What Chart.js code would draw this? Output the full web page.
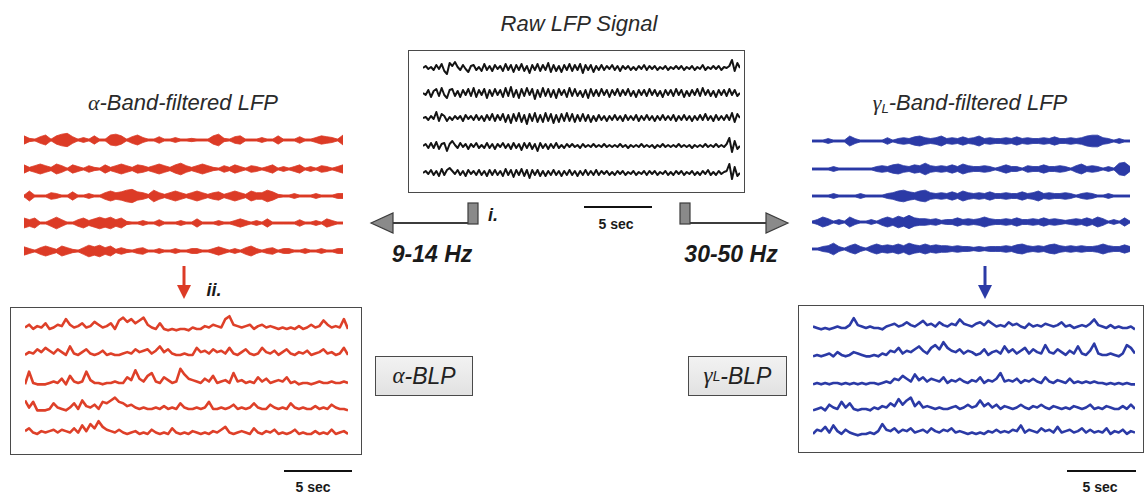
<!DOCTYPE html>
<html>
<head>
<meta charset="utf-8">
<script src="https://cdn.jsdelivr.net/npm/chart.js@4.4.1/dist/chart.umd.min.js"></script>
<style>
  html, body { margin: 0; padding: 0; background: #fff; }
  body { width: 1145px; height: 494px; position: relative; overflow: hidden; font-family: "Liberation Sans", Arial, sans-serif; }
  canvas { position: absolute; }
  .box { position: absolute; box-sizing: border-box; border: 1.5px solid #4a4a4a; }
  .label { position: absolute; box-sizing: border-box; border: 1.5px solid #4a4a4a; background: linear-gradient(#f2f2f2, #e2e2e2);
           display: flex; align-items: center; justify-content: center; font-style: italic; font-size: 23px; color: #222; }
  .txt { position: absolute; transform: translate(-50%, -50%); white-space: nowrap; color: #2a2a2a; }
  .title { font-style: italic; font-size: 22px; }
  .hz { font-style: italic; font-weight: bold; font-size: 23px; color: #1a1a1a; }
  .sec { font-weight: bold; font-size: 14px; color: #1a1a1a; }
  .bar { position: absolute; height: 2px; background: #111; }
  .greek { font-family: "Liberation Serif", "DejaVu Serif", serif; font-style: italic; }
  sub { font-size: 0.6em; vertical-align: -0.25em; }
  svg { position: absolute; left: 0; top: 0; }
</style>
</head>
<body>

<div class="txt title" style="left:579px; top:24px;">Raw LFP Signal</div>
<div class="txt title" style="left:183px; top:103px;"><span class="greek">α</span>-Band-filtered LFP</div>
<div class="txt title" style="left:970px; top:103px;"><span class="greek">γ</span><sub>L</sub>-Band-filtered LFP</div>

<div class="box" style="left:408px; top:50px; width:337px; height:143px;"></div>
<div class="box" style="left:10px; top:307px; width:352px; height:148px;"></div>
<div class="box" style="left:798px; top:305px; width:346px; height:148px;"></div>

<div class="label" style="left:375px; top:356px; width:98px; height:40px;"><span class="greek">α</span>-BLP</div>
<div class="label" style="left:688px; top:356px; width:99px; height:40px;"><span class="greek">γ</span><sub>L</sub>-BLP</div>

<div class="bar" style="left:584px; top:206px; width:68px;"></div>
<div class="txt sec" style="left:616px; top:224px;">5 sec</div>
<div class="bar" style="left:284px; top:470px; width:68px;"></div>
<div class="txt sec" style="left:313px; top:487px;">5 sec</div>
<div class="bar" style="left:1067px; top:470px; width:69px;"></div>
<div class="txt sec" style="left:1100px; top:487px;">5 sec</div>

<div class="txt hz" style="left:432px; top:254px;">9-14 Hz</div>
<div class="txt hz" style="left:731px; top:254px;">30-50 Hz</div>
<div class="txt hz" style="left:493px; top:215px; font-size:18px;">i.</div>
<div class="txt hz" style="left:214px; top:290px; font-size:18px;">ii.</div>

<svg width="1145" height="494">
  <!-- filter branch arrows -->
  <rect x="468" y="203" width="10" height="21" fill="#8a8a8a" stroke="#3c3c3c" stroke-width="1.2"/>
  <line x1="468" y1="223" x2="392" y2="223" stroke="#3c3c3c" stroke-width="2"/>
  <polygon points="371,223 393,213 393,233" fill="#8a8a8a" stroke="#3c3c3c" stroke-width="1.2"/>
  <rect x="680" y="203" width="10" height="21" fill="#8a8a8a" stroke="#3c3c3c" stroke-width="1.2"/>
  <line x1="690" y1="223" x2="767" y2="223" stroke="#3c3c3c" stroke-width="2"/>
  <polygon points="788,223 766,213 766,233" fill="#8a8a8a" stroke="#3c3c3c" stroke-width="1.2"/>
  <!-- envelope arrows -->
  <line x1="184" y1="266" x2="184" y2="287" stroke="#dc3b26" stroke-width="3"/>
  <polygon points="177,285 191,285 184,299" fill="#dc3b26"/>
  <line x1="985" y1="266" x2="985" y2="287" stroke="#2b3aa6" stroke-width="3"/>
  <polygon points="978,285 992,285 985,299" fill="#2b3aa6"/>
</svg>

<script>
// Raw LFP traces (pixel amplitude, up = positive)
const raw1 = [0,2,-1,1,-2,3,-1,4,-3,-6,5,2,6,1,-2,3,-1,-4,2,3,-2,1,-3,4,-2,2,-3,3,-1,2,
  -3,4,-2,3,-4,3,-2,4,-3,2,-5,3,-2,4,-3,3,-2,5,-4,3,-3,2,-4,3,-2,4,-3,3,-2,4,-5,3,-2,3,-4,2,
  -2,3,-2,2,-1,3,-2,2,-3,2,-1,2,-2,1,-2,2,-1,3,-2,2,-1,2,-2,1,-1,2,-2,1,-1,2,-1,2,-2,1,-1,2,-2,1,-1,3,-2,1,-1,2,-1,2,-2,1,
  0,2,8,-3,5,0];
const raw2 = [0,-2,3,-4,2,4,-3,5,-2,-5,3,4,-3,2,-4,3,-2,4,-3,5,-4,3,-2,4,-5,3,-3,4,-2,3,
  -4,5,-3,6,-4,3,-5,4,-3,5,-2,4,-6,3,-4,5,-3,4,-4,3,-5,4,-2,3,-4,5,-3,4,-3,2,-4,3,-5,4,-3,3,
  -3,4,-2,3,-4,3,-2,4,-3,3,-2,4,-3,2,-4,3,-2,3,-3,4,-2,3,-3,2,-4,3,-2,3,-3,4,-2,3,-4,2,-3,3,-2,4,-3,5,-2,3,-3,2,-4,3,-2,3,
  -3,4,-2,3,-3,0];
const raw3 = [0,1,-2,2,-1,6,-3,4,2,-3,1,-2,2,-1,2,-3,3,-1,2,-2,3,-2,2,-3,3,-2,4,-3,3,-2,
  4,-4,3,-5,4,-3,5,-4,3,-6,4,-3,5,-4,3,-4,5,-3,4,-5,3,-4,4,-3,5,-3,4,-4,3,-3,4,-3,3,-4,2,-3,
  3,-2,2,-3,2,-2,3,-2,2,-3,3,-2,2,-2,3,-3,2,-2,3,-2,2,-3,2,-2,3,-2,2,-2,3,-3,2,-2,3,-2,2,-3,2,-2,3,-2,4,-2,2,-3,3,-2,2,-2,
  3,-2,5,-4,4,0];
const raw4 = [0,2,-2,3,-2,4,-3,2,3,-5,2,5,1,-2,3,-1,2,-3,2,-1,3,-2,1,-2,3,-2,2,-3,2,-1,
  3,-2,2,-3,3,-2,2,-4,3,-2,3,-3,2,-5,3,-2,2,-3,2,-2,3,-2,1,-2,2,-1,2,-1,1,-2,2,-1,1,-1,2,-1,
  1,-1,2,-1,1,-1,1,-1,2,-1,1,-2,1,-1,1,-1,2,-1,1,-1,1,-2,1,-1,2,-1,1,-1,1,-1,2,-1,1,-1,1,-2,1,-1,1,-1,2,-1,1,-1,2,-1,1,-1,
  2,8,-6,5,-3,0];
const raw5 = [0,2,-1,3,-2,2,-3,4,-2,3,5,2,-1,3,-2,2,-3,3,-1,2,-2,3,-2,2,-3,3,-2,3,-2,2,
  -3,4,-2,3,-4,3,-2,4,-3,3,-5,3,-2,3,-3,2,-3,2,-2,3,-2,2,-3,2,-2,3,-2,2,-3,2,-2,3,-2,2,-2,3,
  -2,2,-1,2,-2,1,-2,2,-1,2,-2,1,-1,2,-2,1,-1,2,-2,2,-1,2,-2,1,-1,2,-2,1,-2,2,-1,2,-2,1,-1,2,-2,1,-2,2,-1,3,-2,1,-2,2,-1,1,
  2,9,-6,6,-3,0];

// alpha band (9-14 Hz) filtered: oscillation envelope amplitude
const alpha1 = [5,2,1,4,6,1,5,7,8,4,1,3,1,5,1,1,6,7,5,1,4,6,3,1,1,4,1,1,3,1,1,2,1,1,1,5,7,2,1,4,5,1,1,1,3,1,1,5,1,1,1,4,1,1,3,5,4,3,1,6];
const alpha2 = [5,2,4,6,4,2,6,4,1,5,3,1,4,2,1,5,2,4,6,4,2,5,4,2,4,6,4,2,5,7,4,2,4,6,4,2,1,4,2,5,3,1,4,3,1,3,5,1,3,1,3,5,1,3,1,4,3,1,3,5];
const alpha3 = [1,6,1,1,1,4,3,1,1,5,1,1,3,1,1,4,6,4,5,7,8,5,4,2,7,4,2,4,6,4,2,4,6,4,2,4,5,2,4,6,4,2,6,4,4,7,5,2,1,1,3,1,1,1,3,1,1,1,3,3];
const alpha4 = [6,4,6,1,1,4,7,4,1,1,4,6,3,5,7,5,7,4,6,2,1,1,3,1,1,4,1,1,1,3,1,1,5,1,1,1,3,1,1,3,5,3,1,3,1,5,1,1,1,1,1,4,1,1,3,1,5,3,1,1];
const alpha5 = [5,3,1,4,6,4,2,6,4,2,1,4,7,5,7,4,6,2,4,2,1,3,4,1,1,3,1,1,3,1,1,3,3,1,1,3,5,3,1,3,1,4,6,3,1,3,4,1,3,3,1,1,3,1,1,3,1,1,3,3];

// low gamma band (30-50 Hz) filtered: oscillation envelope amplitude
const gamma1 = [1,1,1,3,1,1,1,6,3,1,1,1,1,1,4,1,3,4,3,5,6,4,3,4,6,3,4,3,5,3,4,6,3,4,3,3,4,3,5,3,4,3,3,4,3,5,3,3,4,3,4,6,7,7,4,3,1,3,1,1];
const gamma2 = [1,1,1,1,3,1,1,1,1,1,1,1,3,4,3,5,6,4,3,5,4,7,4,3,4,3,5,3,6,4,3,3,4,3,1,3,5,3,3,1,4,3,3,5,3,3,4,3,1,4,6,3,4,3,1,3,1,7,8,3];
const gamma3 = [1,1,1,1,3,1,1,1,1,3,1,1,1,1,3,4,6,7,5,4,6,7,4,3,4,3,5,3,6,4,3,4,3,5,3,3,4,3,3,5,3,4,6,3,4,3,3,4,3,1,3,4,3,1,1,3,1,1,1,1];
const gamma4 = [1,3,6,4,1,3,1,6,3,1,1,3,1,4,6,4,7,5,8,5,4,4,3,4,2,3,3,5,3,4,3,4,6,4,3,3,4,3,5,3,3,4,3,5,3,4,3,2,3,4,3,5,3,6,4,1,3,1,5,1];
const gamma5 = [1,1,3,4,7,3,1,4,6,3,1,4,6,4,5,4,6,4,7,5,4,6,4,5,4,4,3,4,3,3,2,3,2,3,3,3,4,3,5,6,4,3,4,3,5,6,4,3,4,3,4,3,3,4,6,4,3,3,5,3];

// band-limited power (envelope) traces
const blpA1 = [3,5,2,4,3,6,2,3,5,4,9,5,3,4,6,3,4,7,5,3,4,6,2,8,10,7,9,6,8,10,5,3,2,6,2,1,2,1,2,2,1,3,2,2,4,3,5,4,3,9,11,5,4,3,4,5,2,4,5,3,4,3,2,3,2,3,2,4,2,3,5,3,4,8,5,3,4,3,9,2];
const blpA2 = [2,4,3,6,4,7,5,3,6,4,2,8,3,2,4,6,3,2,3,5,2,3,2,2,3,4,3,6,4,5,6,3,5,8,4,6,3,2,2,3,2,2,7,4,5,3,6,4,5,3,7,3,2,4,6,3,2,3,7,4,3,5,2,4,6,3,2,4,3,5,2,3,4,6,3,4,2,3,7,2];
const blpA3 = [1,10,2,1,1,1,2,3,2,5,1,7,3,2,3,10,4,2,2,1,2,2,3,2,2,6,4,11,5,3,7,9,3,2,6,4,2,3,12,8,5,4,3,2,5,3,7,2,3,4,2,9,3,4,2,3,2,6,3,5,2,3,4,3,6,2,3,1,2,2,1,2,3,2,2,3,2,2,3,2];
const blpA4 = [8,3,7,1,1,1,2,6,3,2,1,3,6,2,8,4,3,5,2,7,6,8,10,7,6,4,5,3,2,3,2,2,3,2,4,2,3,2,6,3,2,2,3,2,3,7,2,2,3,2,3,5,2,3,2,3,6,3,2,2,5,3,2,3,2,6,3,2,3,2,2,4,2,3,2,5,3,2,2,1];
const blpA5 = [4,6,3,2,4,3,4,5,3,5,4,3,6,3,8,4,9,6,11,7,5,4,3,5,3,2,3,4,2,3,2,5,3,2,3,2,6,3,2,3,2,4,3,2,3,2,4,3,5,7,3,2,3,4,3,2,6,3,2,4,3,5,2,3,2,3,5,2,3,2,2,4,2,3,2,5,2,3,4,2];

const blpG1 = [3,2,1,2,1,2,3,2,2,4,9,4,3,2,3,2,2,1,3,4,5,3,4,6,4,3,5,7,4,5,3,6,4,3,5,4,8,5,4,3,5,6,4,7,5,3,4,3,6,4,5,3,2,5,3,4,3,5,4,3,4,6,3,4,2,3,4,3,5,8,4,3,2,4,2,3,2,2,3,1];
const blpG2 = [1,2,1,2,3,1,4,2,1,2,4,3,2,1,1,2,1,3,2,5,4,7,3,5,4,6,8,5,3,7,9,6,11,7,5,4,6,3,5,4,2,3,6,2,4,5,3,8,4,6,3,5,7,3,6,4,3,9,4,3,6,4,2,5,3,8,3,2,5,10,3,2,2,3,2,1,3,9,7,3];
const blpG3 = [1,2,1,2,1,2,2,1,2,1,2,1,2,1,2,2,1,2,3,2,5,4,7,5,3,8,4,6,3,5,4,3,6,2,4,3,5,3,2,4,3,6,2,4,3,5,9,3,4,3,5,2,4,3,5,3,2,6,3,2,4,3,2,5,2,3,2,3,2,3,2,2,1,2,1,2,1,2,1,1];
const blpG4 = [1,2,3,1,5,3,2,7,3,6,2,1,2,2,1,3,2,4,3,6,4,9,5,8,10,4,7,3,4,3,2,3,2,2,3,4,2,3,5,3,4,8,4,6,3,5,2,4,3,2,3,5,3,2,4,3,5,3,2,4,3,2,3,2,4,3,2,3,5,2,3,2,4,3,2,2,4,2,5,2];
const blpG5 = [2,5,4,7,3,8,4,2,5,3,2,1,2,2,3,2,4,9,5,4,6,3,5,4,6,3,4,5,3,6,4,3,5,4,6,3,4,3,2,3,2,3,2,4,3,5,3,4,3,5,4,8,3,5,4,3,6,4,5,3,7,3,4,5,3,4,6,3,5,3,4,3,6,2,4,3,5,2,4,3];

const RED = '#dc3b26';
const BLUE = '#2b3aa6';

// thin centre line for the band-filtered traces
const zeroLine = {
  id: 'zeroLine',
  beforeDatasetsDraw(chart, args, opts) {
    const ctx = chart.ctx;
    const y = chart.scales.y.getPixelForValue(0);
    const { left, right } = chart.chartArea;
    ctx.save();
    ctx.strokeStyle = opts.color;
    ctx.lineWidth = opts.width;
    ctx.beginPath();
    ctx.moveTo(left, y);
    ctx.lineTo(right, y);
    ctx.stroke();
    ctx.restore();
  }
};

function makeCanvas(left, top, width, height) {
  const c = document.createElement('canvas');
  c.width = width;
  c.height = height;
  c.style.left = left + 'px';
  c.style.top = top + 'px';
  document.body.appendChild(c);
  return c;
}

function baseOptions(yMin, yMax) {
  return {
    responsive: false,
    animation: false,
    events: [],
    layout: { padding: 0 },
    plugins: { legend: { display: false }, tooltip: { enabled: false } },
    scales: {
      x: { display: false },
      y: { display: false, min: yMin, max: yMax }
    }
  };
}

// line trace (raw LFP, BLP)
function lineTrace(canvas, values, color, width, yMin, yMax) {
  return new Chart(canvas, {
    type: 'line',
    data: {
      labels: values.map((v, i) => i),
      datasets: [{
        data: values,
        borderColor: color,
        borderWidth: width,
        borderJoinStyle: 'round',
        pointRadius: 0,
        tension: 0,
        clip: false
      }]
    },
    options: baseOptions(yMin, yMax)
  });
}

// band-filtered trace: area filled between +envelope and -envelope
function bandTrace(canvas, values, color, yMin, yMax) {
  const opts = baseOptions(yMin, yMax);
  opts.plugins.zeroLine = { color: color, width: 2.5 };
  opts.plugins.filler = { propagate: false };
  return new Chart(canvas, {
    type: 'line',
    data: {
      labels: values.map((v, i) => i),
      datasets: [
        { data: values, borderColor: color, borderWidth: 0.8, pointRadius: 0, tension: 0, fill: false, clip: false },
        { data: values.map(a => -a), borderColor: color, borderWidth: 0.8, pointRadius: 0, tension: 0,
          fill: '-1', backgroundColor: color, clip: false }
      ]
    },
    options: opts,
    plugins: [zeroLine]
  });
}

// raw LFP panel
[raw1, raw2, raw3, raw4, raw5].forEach((s, i) => {
  const centers = [68, 93, 118, 146, 173];
  lineTrace(makeCanvas(423, centers[i] - 16, 317, 32), s, '#141414', 2.0, -16, 16);
});

// alpha filtered panel
[alpha1, alpha2, alpha3, alpha4, alpha5].forEach((s, i) => {
  const centers = [140, 169, 196, 223, 251];
  bandTrace(makeCanvas(24, centers[i] - 10, 319, 20), s, RED, -12, 12);
});

// gamma filtered panel
[gamma1, gamma2, gamma3, gamma4, gamma5].forEach((s, i) => {
  const centers = [141, 169, 196, 222, 249];
  bandTrace(makeCanvas(812, centers[i] - 10, 318, 20), s, BLUE, -12, 12);
});

// BLP panels (baseline about 20px below canvas top)
[blpA1, blpA2, blpA3, blpA4, blpA5].forEach((s, i) => {
  const baselines = [332, 358, 386, 412, 437];
  lineTrace(makeCanvas(25, baselines[i] - 20, 323, 24), s, '#de4029', 2.6, -3, 14);
});
[blpG1, blpG2, blpG3, blpG4, blpG5].forEach((s, i) => {
  const baselines = [331, 358, 386, 412, 437];
  lineTrace(makeCanvas(813, baselines[i] - 20, 322, 24), s, BLUE, 2.6, -3, 14);
});
</script>
</body>
</html>
